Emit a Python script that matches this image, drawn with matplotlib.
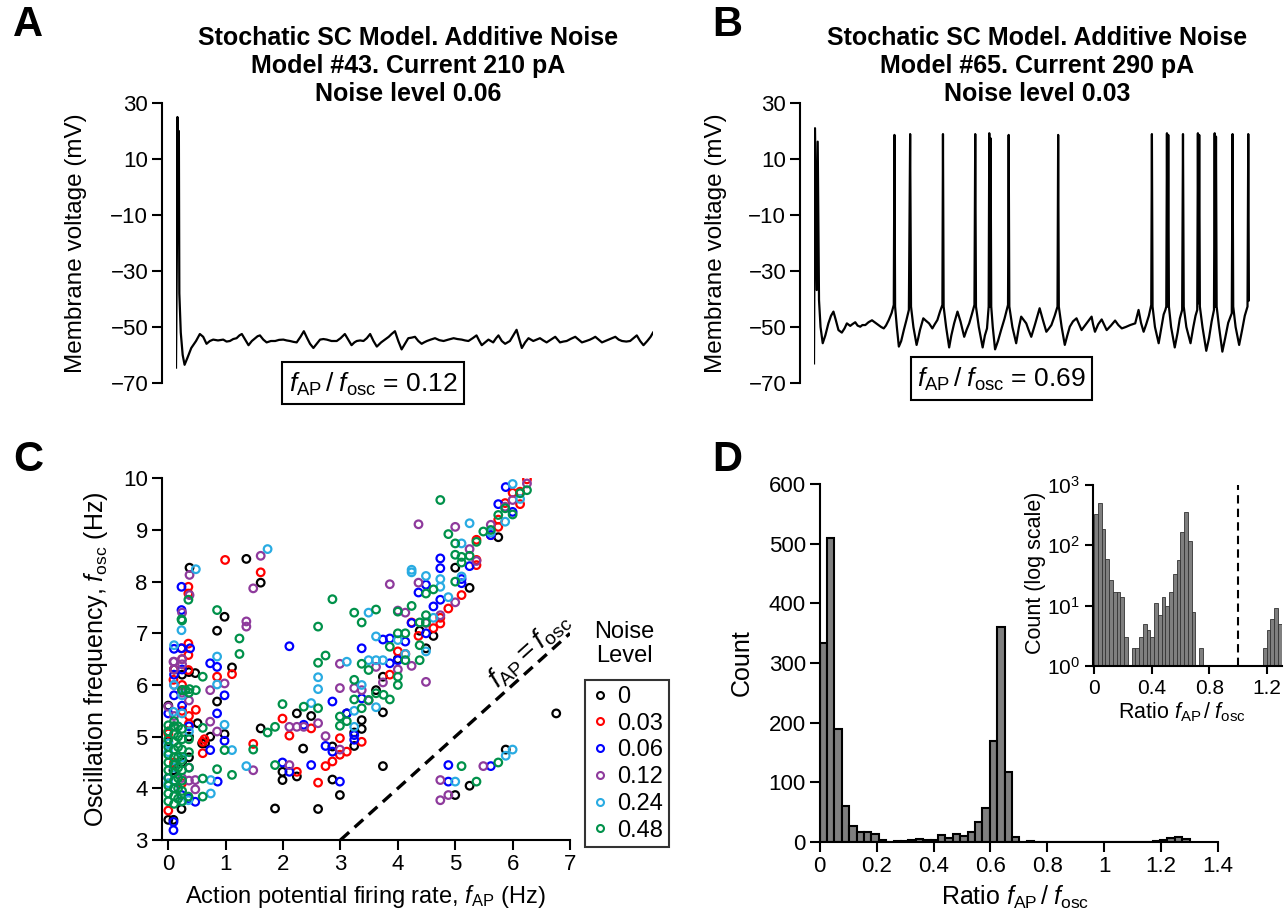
import numpy as np
import matplotlib
matplotlib.use('Agg')
import matplotlib.pyplot as plt
from matplotlib.lines import Line2D
from matplotlib.patches import Rectangle

plt.rcParams['font.family'] = ['Liberation Sans', 'DejaVu Sans']
plt.rcParams['mathtext.fontset'] = 'custom'
plt.rcParams['mathtext.rm'] = 'Liberation Sans'
plt.rcParams['mathtext.it'] = 'Liberation Sans:italic'
plt.rcParams['mathtext.bf'] = 'Liberation Sans:bold'

# ---------------- data ----------------
# panel A trace (time in ms, voltage in mV)
trace_a_t = [0, 2, 3, 4, 6, 7, 10, 14, 18, 24, 32, 42, 50, 57, 64, 71, 78, 88, 99, 106, 113, 120, 127, 133,
             138, 145, 152, 159, 166, 171, 176, 183, 190, 199, 208, 216, 225, 232, 239, 246, 253, 261, 268,
             275, 281, 288, 295, 302, 309, 316, 326, 337, 345, 354, 361, 368, 374, 379, 386, 393, 400, 407,
             414, 421, 430, 438, 446, 452, 459, 466, 473, 480, 487, 494, 501, 508, 515, 520, 526, 534, 543,
             552, 561, 571, 582, 590, 599, 606, 613, 622, 630, 636, 641, 648, 655, 660, 665, 671, 676, 683,
             690, 695, 700, 707, 714, 720, 725, 732, 739, 744, 749, 756, 763, 770, 777, 786, 795, 800, 805,
             812, 819, 828, 837, 844, 851, 860, 868, 874, 879, 886, 893, 900, 907, 914, 921, 928, 935, 944,
             952, 959, 966, 973, 980, 988, 995, 1000]
trace_a_v = [-64.5, -20, 25, -10, 20, -38, -52, -60, -63.5, -61, -57.5, -55, -52.5, -53.5, -56, -55, -54.5,
             -54.8, -54.5, -55.2, -55, -54.3, -54, -53, -52.5, -54.5, -56.5, -55, -54, -53.3, -53, -54.5,
             -55.5, -55, -55, -54.6, -54.5, -54.8, -55, -55.3, -55.5, -53.5, -51.5, -54, -56, -57.5, -56,
             -54.5, -54.3, -54.5, -55, -55, -54, -52.5, -54.5, -56.5, -55.5, -55, -54.8, -55, -54, -52.5,
             -55, -57, -55.5, -54.5, -53.5, -52.5, -51.5, -55, -58, -56, -54, -53.8, -53.5, -55, -56, -55.5,
             -55, -54.5, -54, -54.7, -55, -54.5, -54, -54.3, -54.5, -54.8, -55, -54, -53, -55, -56.5, -55.5,
             -54.5, -55, -55.5, -54, -53, -55, -56, -55.5, -55, -53, -51, -54.5, -57.5, -55.5, -54, -54.5,
             -55, -54.5, -54, -54.8, -55.5, -54.5, -53.5, -54.5, -55.5, -55.2, -55, -54.2, -53.5, -54.5,
             -55.5, -55, -54.5, -54, -53.5, -54.5, -55.5, -55, -54.5, -54, -53.5, -54.5, -55, -55.2, -55,
             -54, -53, -55, -56.5, -55, -53.5, -52]

# panel B trace
trace_b_t = [0, 2.3, 6.2, 8.5, 11.5, 15, 20, 26, 33, 39, 44.6, 50, 56.1, 63.8, 70, 75.4, 83.1, 88, 94.6, 100,
             106.1, 111, 117.7, 125, 133, 141, 148.4, 154, 160, 165, 171.5, 178, 183, 184.5, 186, 190, 194.6,
             200, 206, 212, 217.6, 220.5, 222.5, 228, 235.3, 239, 243, 250.7, 257, 263.8, 271.5, 277, 283,
             289, 294.5, 295.8, 297.3, 303, 310, 315, 321.4, 329.1, 336, 344.5, 350, 356, 362, 368, 369.8,
             371.5, 378, 386.8, 392, 396.8, 399, 400.6, 402, 403.5, 405, 406.5, 410, 415.3, 422, 429.1, 437,
             445, 446.5, 448, 455, 463.7, 470, 475.2, 481, 486.8, 492, 498.3, 507, 517.5, 525, 532.9, 539,
             544.5, 552, 558.5, 560, 561.5, 568, 575.2, 581, 586.7, 594, 602.1, 608, 613.7, 619, 625.2, 631,
             636.7, 640, 644.4, 652, 659.8, 665, 671.3, 681, 690.6, 698, 706, 715, 725.2, 731, 736.7, 741,
             744.4, 750, 756, 762, 768, 773.5, 775, 776.5, 782, 790.5, 797, 802, 805.9, 808, 809.5, 811,
             812.5, 814, 819, 827.4, 834, 839, 844.4, 846.3, 848, 854, 863.6, 870, 875, 879, 880.5, 882,
             883.5, 885, 891, 899.7, 906, 912, 917.4, 919, 920.5, 922, 923.5, 929, 936.6, 943, 950, 958.2,
             960, 961.5, 967, 975.1, 982, 988, 994.3, 996, 997.5, 1000]
trace_b_v = [-63, 21.0, -36.8, 16.2, -40.4, -50, -55.8, -53, -48.7, -46, -44.5, -47.5, -51.1, -52.0, -50.5,
             -48.7, -49.6, -49, -48.3, -49.5, -49.9, -49.3, -49.3, -48.3, -47.6, -48.5, -49.3, -50, -50.5,
             -49.5, -47.5, -45, -42.1, 18.6, -42.7, -50, -57.0, -55, -51.1, -47.5, -43.9, 18.9, -42.7, -50,
             -56.4, -54, -51.1, -46.9, -47.8, -48.7, -50.5, -49, -47.5, -44.5, -42.1, 18.9, -42.7, -50,
             -57.3, -53, -48.7, -44.5, -48, -53.5, -51, -48.7, -45.5, -42.1, 18.9, -42.7, -50, -57.3, -53,
             -50.5, -46, -42.7, 19.2, -42.7, 17.4, -42.7, -50, -58.0, -55, -51.1, -47, -42.1, 18.6, -42.7,
             -50, -55.8, -50, -46.3, -47.5, -48.7, -51, -53.5, -49, -43.3, -47.5, -51.7, -50.5, -49.3, -46,
             -42.7, 18.6, -42.7, -50, -56.4, -53, -49.9, -48, -46.9, -49, -51.1, -50, -48.7, -47.5, -46.3,
             -49, -51.7, -49, -47.3, -49, -51.1, -49.5, -47.7, -49.3, -50.5, -50, -49.3, -49, -48.7, -46,
             -43.9, -48.5, -51.7, -49, -46, -42.1, 18.9, -42.7, -50, -55.8, -50, -45.5, -43.9, -42.7, 19.2,
             -42.7, 18.6, -42.7, -50, -57.3, -52, -47, -43.9, 18.9, -42.7, -50, -55.8, -50, -46, -43.9, 19.2,
             -41.5, 18.6, -42.7, -50, -58.5, -54, -48, -43.9, 19.2, -42.7, 18.0, -42.7, -50, -58.8, -54,
             -48.5, -45.1, 18.9, -42.7, -50, -56.4, -51, -46, -42.7, 18.9, -40.5, -40.4]

# panel C: (f_AP, f_osc) per noise level
noise_levels = ['0', '0.03', '0.06', '0.12', '0.24', '0.48']
fap_0 = [5.75, 5.25, 5.0, 4.62, 4.49, 0.37, 1.36, 1.61, 0.98, 0.85, 1.11, 0.85, 0.47, 0.73, 0.98, 0.59, 1.61,
         2.24, 2.49, 2.35, 1.99, 1.99, 2.24, 1.86, 2.61, 2.86, 2.86, 2.99, 3.11, 3.24, 3.37, 3.74, 3.74, 3.74,
         6.76, 5.88, 5.0, 5.25, 0.0, 0.09, 0.23, 0.09, 0.0, 0.1, 0.24, 0.36, 0.24, 0.0, 0.36, 0.51, 3.24, 3.37,
         0.64, 0.36, 0.24, 0.1, 3.62, 4.0, 4.38]
fosc_0 = [8.86, 7.88, 8.27, 6.95, 6.71, 8.27, 8.44, 7.98, 7.32, 7.05, 6.34, 5.68, 6.23, 5.0, 5.05, 4.87, 5.16,
          5.45, 5.4, 4.77, 4.32, 4.16, 4.23, 3.61, 3.6, 4.81, 4.17, 3.87, 5.45, 4.82, 5.32, 4.43, 5.47, 6.16,
          5.45, 4.75, 3.87, 4.05, 3.39, 3.39, 3.6, 4.35, 4.9, 5.2, 6.2, 5.0, 4.5, 5.6, 4.6, 5.26, 5.08, 5.15,
          4.87, 6.25, 5.9, 6.3, 5.9, 6.5, 7.05]
fap_1 = [6.25, 6.13, 6.0, 6.13, 5.87, 5.75, 5.37, 5.37, 5.11, 4.88, 4.74, 4.24, 4.0, 0.99, 1.61, 0.35, 0.35,
         0.35, 0.23, 0.35, 0.35, 0.85, 1.11, 0.6, 0.6, 0.48, 1.48, 1.99, 2.11, 2.49, 2.24, 2.61, 2.74, 2.86,
         2.99, 2.99, 3.11, 0.0, 0.0, 0.09, 5.37, 4.74, 4.62, 5.62, 5.75, 4.36, 3.37, 0.24, 0.24, 0.24, 0.36,
         0.1, 0.36, 0.0, 0.63, 0.1, 0.24, 3.86, 4.13]
fosc_1 = [9.98, 9.74, 9.72, 9.5, 9.52, 9.06, 8.81, 8.32, 7.74, 7.48, 7.19, 7.21, 6.65, 8.42, 8.18, 7.9, 7.77,
          6.8, 6.71, 6.58, 6.29, 6.16, 6.21, 4.9, 4.68, 5.52, 4.86, 5.35, 5.02, 5.16, 4.32, 4.11, 4.43, 4.52,
          4.97, 4.65, 4.71, 3.57, 5.06, 6.1, 8.42, 7.3, 7.1, 8.9, 9.2, 6.95, 4.9, 6.5, 6.0, 5.5, 5.4, 6.3,
          5.25, 5.1, 4.95, 4.5, 4.1, 6.2, 6.6]
fap_2 = [5.88, 5.75, 4.74, 4.74, 5.11, 4.36, 4.49, 4.24, 3.86, 3.74, 3.37, 2.11, 0.23, 0.23, 0.23, 0.73, 0.85,
         0.98, 0.85, 0.98, 0.73, 0.86, 1.99, 2.11, 2.36, 2.49, 2.74, 2.86, 2.99, 2.86, 3.11, 3.24, 3.24, 3.37,
         3.86, 4.0, 4.88, 4.88, 5.62, 0.09, 0.09, 0.0, 0.23, 0.47, 5.62, 4.74, 4.62, 5.11, 5.25, 4.13, 0.1,
         0.1, 0.24, 0.1, 0.24, 0.36, 0.1, 0.0, 0.36, 0.38, 6.0, 4.49]
fosc_2 = [9.83, 9.5, 8.45, 8.26, 7.97, 7.79, 7.94, 7.2, 6.9, 6.88, 6.71, 6.75, 7.9, 7.45, 6.71, 6.42, 6.35,
          5.8, 5.45, 4.92, 4.74, 4.13, 4.5, 4.32, 5.23, 4.45, 4.82, 4.71, 4.13, 5.68, 5.45, 5.03, 4.94, 5.74,
          6.42, 6.48, 4.45, 4.13, 4.43, 3.19, 3.35, 5.45, 3.87, 3.74, 8.9, 7.65, 7.52, 8.05, 8.3, 6.84, 6.7,
          6.2, 6.3, 5.8, 5.6, 5.2, 4.0, 4.2, 3.8, 6.71, 9.35, 7.0]
fap_3 = [4.36, 5.0, 5.25, 3.86, 4.36, 1.61, 1.48, 1.36, 1.36, 0.37, 0.37, 2.99, 2.99, 4.49, 4.0, 4.13, 6.0,
         0.73, 0.98, 0.73, 0.85, 0.47, 0.47, 1.48, 2.11, 2.24, 2.11, 2.36, 2.74, 2.61, 2.99, 3.24, 3.37, 3.62,
         4.24, 4.74, 4.74, 4.88, 5.49, 0.0, 0.09, 6.25, 5.87, 4.74, 5.0, 4.49, 5.37, 5.62, 3.49, 0.1, 0.24,
         0.1, 0.24, 0.36, 0.1, 0.24, 0.36, 0.24, 0.36, 0.24, 0.1, 3.74, 4.0]
fosc_3 = [9.11, 9.06, 8.63, 7.95, 7.98, 8.5, 7.87, 7.23, 7.13, 8.13, 7.74, 6.41, 5.94, 6.06, 7.44, 7.4, 9.58,
          5.9, 6.03, 5.29, 5.1, 3.98, 4.16, 4.35, 5.19, 5.19, 4.45, 5.19, 5.01, 5.26, 4.75, 5.94, 5.9, 6.35,
          6.37, 4.16, 3.77, 3.87, 4.43, 5.58, 6.45, 9.9, 9.45, 7.35, 7.6, 7.2, 8.4, 9.1, 5.7, 6.3, 6.4, 6.0,
          5.85, 5.7, 5.4, 4.2, 4.4, 7.4, 4.15, 6.5, 6.45, 6.05, 6.3]
fap_4 = [6.0, 5.87, 5.25, 5.11, 4.24, 4.24, 4.49, 4.74, 4.74, 3.49, 3.62, 3.62, 3.49, 3.11, 3.74, 1.73, 0.48,
         0.1, 0.23, 0.85, 0.85, 0.98, 1.11, 0.74, 0.74, 1.36, 2.49, 2.61, 2.61, 3.24, 4.49, 5.88, 6.0, 5.0,
         0.35, 0.0, 0.09, 4.0, 4.13, 5.11, 5.62, 6.13, 4.62, 3.62, 3.24, 0.24, 0.1, 0.24, 0.0, 0.24, 0.36,
         0.0, 0.24, 0.1, 3.37, 4.88]
fosc_4 = [9.89, 9.16, 9.13, 8.74, 8.23, 8.18, 8.11, 8.05, 7.9, 7.4, 6.94, 6.48, 6.48, 6.45, 6.48, 8.63, 8.24,
          6.77, 7.06, 6.55, 6.01, 5.23, 4.74, 4.16, 3.9, 4.43, 5.65, 6.15, 5.92, 5.19, 6.65, 4.63, 4.75, 4.13,
          3.77, 4.87, 5.48, 6.87, 6.6, 8.1, 8.95, 9.6, 7.3, 5.57, 5.5, 5.8, 4.4, 4.6, 4.1, 3.75, 5.1, 4.7,
          5.45, 6.0, 6.0, 7.7]
fap_5 = [4.74, 6.25, 6.13, 5.75, 5.62, 5.49, 5.37, 4.88, 5.0, 5.0, 5.11, 5.11, 4.62, 4.49, 4.24, 4.0, 3.24,
         3.62, 3.37, 2.86, 2.61, 2.74, 2.61, 3.37, 3.49, 3.24, 2.99, 2.99, 2.61, 2.36, 1.99, 1.86, 1.73, 1.86,
         1.48, 1.11, 0.98, 0.85, 0.6, 0.6, 0.6, 1.24, 1.24, 0.85, 0.35, 0.23, 0.37, 0.48, 0.6, 5.11, 5.37,
         5.75, 0.35, 3.49, 3.62, 3.75, 3.86, 3.37, 4.0, 4.0, 4.13, 4.38, 4.38, 4.0, 4.13, 4.38, 4.49, 4.49,
         3.86, 3.24, 3.11, 5.87, 6.0, 5.0, 5.25,
         0.0, 0.0, 0.0, 0.0, 0.0, 0.0, 0.0, 0.0, 0.0, 0.0, 0.0,
         0.1, 0.1, 0.1, 0.1, 0.1, 0.1, 0.1, 0.1, 0.1, 0.1, 0.1, 0.1,
         0.17, 0.17, 0.17, 0.17, 0.17, 0.17, 0.17, 0.17,
         0.24, 0.24, 0.24, 0.24, 0.24, 0.24, 0.24, 0.24, 0.24, 0.24,
         0.36, 0.36, 0.36, 0.36, 0.3]
fosc_5 = [9.58, 9.77, 9.71, 9.29, 9.0, 8.97, 8.77, 8.92, 8.74, 8.52, 8.48, 8.37, 7.85, 7.77, 7.53, 7.42, 7.4,
          7.46, 7.21, 7.66, 7.13, 6.57, 6.43, 6.41, 6.29, 6.1, 5.21, 5.39, 5.55, 5.58, 5.63, 5.19, 5.08, 4.45,
          4.75, 4.26, 4.74, 4.37, 5.17, 4.19, 3.84, 6.9, 6.6, 7.45, 7.65, 7.27, 5.92, 5.9, 6.16, 4.43, 4.13,
          4.5, 3.84, 5.71, 5.84, 5.81, 5.72, 5.55, 6.0, 6.16, 6.48, 6.48, 6.77, 7.0, 7.0, 7.21, 7.35, 7.21,
          6.74, 5.72, 5.3, 9.42, 9.3, 8.0, 8.5,
          3.75, 3.9, 4.05, 4.2, 4.35, 4.5, 4.65, 4.8, 4.95, 5.1, 5.22,
          3.7, 3.85, 4.0, 4.15, 4.3, 4.45, 4.6, 4.75, 4.9, 5.05, 5.2, 5.3,
          3.8, 4.0, 4.2, 4.4, 4.6, 4.8, 5.0, 5.2,
          3.75, 3.95, 4.15, 4.35, 4.55, 4.75, 4.95, 5.15, 5.9, 7.25,
          4.4, 4.7, 4.95, 5.85, 5.9]

# panel D: histogram of f_AP / f_osc, 50 bins of width 0.026 on [0, 1.3]
bin_edges = np.linspace(0, 1.3, 51)
counts = [333, 510, 190, 60, 27, 17, 17, 14, 3, 0,
          2, 2, 3, 5, 4, 3, 11, 7, 14, 10,
          17, 33, 57, 169, 361, 118, 8, 0, 2, 0,
          0, 0, 0, 0, 0, 0, 0, 0, 0, 0,
          0, 0, 0, 0, 0, 2, 4, 6, 9, 5]

colors = ['#000000', '#ff0000', '#0000ff', '#8e3a9c', '#29abe2', '#00914a']

# ---------------- figure ----------------
W, H = 1286, 919
fig = plt.figure(figsize=(W / 100, H / 100), dpi=100)


def rect(x0, y0, x1, y1):
    # pixel box (left, top, right, bottom) -> figure fraction
    return [x0 / W, 1 - y1 / H, (x1 - x0) / W, (y1 - y0) / H]


def ftext(x, y, s, **kw):
    fig.text(x / W, 1 - y / H, s, **kw)


tick_fs = 16
lab_fs = 17


def style(ax, lw=1.5):
    for sp in ['top', 'right']:
        ax.spines[sp].set_visible(False)
    for sp in ['left', 'bottom']:
        ax.spines[sp].set_linewidth(lw)
    ax.tick_params(direction='out', length=7, width=lw, labelsize=tick_fs, pad=3)


# ---- A and B: voltage traces ----
for (x0, x1, tt, vv, title, ratio, box, letter, lx, cx) in [
        (176, 653, trace_a_t, trace_a_v, 'Stochatic SC Model. Additive Noise\nModel #43. Current 210 pA\nNoise level 0.06',
         '0.12', (282, 362, 464, 404), 'A', 28, 408),
        (814, 1250, trace_b_t, trace_b_v, 'Stochatic SC Model. Additive Noise\nModel #65. Current 290 pA\nNoise level 0.03',
         '0.69', (911, 357, 1092, 400), 'B', 727, 1037)]:
    ax = fig.add_axes(rect(x0, 103, x1, 383))
    ax.plot(tt, vv, color='black', lw=1.6)
    ax.set_xlim(0, 1000)
    ax.set_ylim(-70, 30)
    ax.set_yticks([30, 10, -10, -30, -50, -70])
    ax.set_yticklabels(['30', '10', '\u221210', '\u221230', '\u221250', '\u221270'])
    style(ax)
    ax.spines['bottom'].set_visible(False)
    ax.spines['left'].set_position(('outward', 10))
    ax.set_xticks([])
    ftext(cx, 66, title, ha='center', va='center', fontsize=18, fontweight='bold', linespacing=1.22)
    ftext(lx, 25, letter, ha='center', va='center', fontsize=30, fontweight='bold')
    ftext(lx + 48 if letter == 'A' else lx - 11, 243, 'Membrane voltage (mV)', rotation=90,
          ha='center', va='center', fontsize=lab_fs + 0.5)
    bx0, by0, bx1, by1 = box
    fig.patches.append(Rectangle((bx0 / W, 1 - by1 / H), (bx1 - bx0) / W, (by1 - by0) / H,
                                 transform=fig.transFigure, fill=False, lw=1.5, ec='black'))
    ftext((bx0 + bx1) / 2, (by0 + by1) / 2 + 1,
          r'$f_{\rm AP}\,/\;f_{\rm osc}$ = ' + ratio, ha='center', va='center', fontsize=19)

# ---- C: scatter ----
axc = fig.add_axes(rect(161.7, 478.3, 570, 840))
series = [(fap_0, fosc_0), (fap_1, fosc_1), (fap_2, fosc_2), (fap_3, fosc_3), (fap_4, fosc_4), (fap_5, fosc_5)]
for (xs, ys), c in zip(series, colors):
    axc.scatter(xs, ys, s=30, facecolors='none', edgecolors=c, linewidths=1.6, zorder=3)
axc.plot([3, 7], [3, 7], ls=(0, (3.5, 2.2)), color='black', lw=2.4, zorder=2)
axc.set_xlim(-0.115, 7)
axc.set_ylim(3, 10)
axc.set_xticks(range(0, 8))
axc.set_yticks(range(3, 11))
style(axc)
axc.text(6.3, 6.68, r'$f_{\rm AP} = f_{\rm osc}$', rotation=42, rotation_mode='anchor',
         ha='center', va='center', fontsize=20)
ftext(365, 897, r'Action potential firing rate, $f_{\rm AP}$ (Hz)', ha='center', va='center', fontsize=lab_fs)
ftext(96, 659, r'Oscillation frequency, $f_{\rm osc}$ (Hz)', rotation=90, ha='center', va='center',
      fontsize=lab_fs + 1)
ftext(28, 460, 'C', ha='center', va='center', fontsize=30, fontweight='bold')
ftext(624, 644, 'Noise\nLevel', ha='center', va='center', fontsize=lab_fs, linespacing=1.1)
handles = [Line2D([], [], marker='o', ls='none', mfc='none', mec=c, ms=5, mew=1.5) for c in colors]
leg = axc.legend(handles, noise_levels, loc='upper left', bbox_to_anchor=(585 / W, 1 - 680 / H),
                 bbox_transform=fig.transFigure, frameon=True, fancybox=False, edgecolor='black',
                 fontsize=lab_fs, handletextpad=0.3, handlelength=0.8, borderpad=0.25,
                 labelspacing=0.2, borderaxespad=0)
leg.get_frame().set_linewidth(1.5)

# ---- D: histogram ----
axd = fig.add_axes(rect(819.7, 484, 1218, 842))
widths = np.diff(bin_edges)
axd.bar(bin_edges[:-1], counts, width=widths, align='edge', color='#7f7f7f', edgecolor='black', lw=1.5)
axd.set_xlim(0, 1.4)
axd.set_ylim(0, 600)
axd.set_xticks([0, 0.2, 0.4, 0.6, 0.8, 1.0, 1.2, 1.4])
axd.set_xticklabels(['0', '0.2', '0.4', '0.6', '0.8', '1', '1.2', '1.4'])
axd.set_yticks(range(0, 700, 100))
style(axd)
ftext(742, 663, 'Count', rotation=90, ha='center', va='center', fontsize=lab_fs + 1)
ftext(1015, 897, r'Ratio $f_{\rm AP}\,/\;f_{\rm osc}$', ha='center', va='center', fontsize=lab_fs + 1)
ftext(727, 460, 'D', ha='center', va='center', fontsize=30, fontweight='bold')

# inset (log scale)
axi = fig.add_axes(rect(1092.6, 485, 1281.5, 666))
counts_arr = np.array(counts)
nz = counts_arr > 0
axi.bar(bin_edges[:-1][nz], counts_arr[nz] - 1, bottom=1, width=widths[nz], align='edge',
        color='#7f7f7f', edgecolor='#333333', lw=0.6)
axi.set_yscale('log')
axi.set_ylim(1, 1000)
axi.set_xlim(-0.01, 1.3)
axi.axvline(1.0, ls=(0, (4, 2.5)), color='black', lw=1.5)
axi.set_xticks([0, 0.4, 0.8, 1.2])
axi.set_xticklabels(['0', '0.4', '0.8', '1.2'])
axi.set_yticks([1, 10, 100, 1000])
axi.set_yticklabels([r'$10^0$', r'$10^1$', r'$10^2$', r'$10^3$'])
axi.minorticks_off()
style(axi)
axi.tick_params(labelsize=15, length=6)
ftext(1035, 573, 'Count (log scale)', rotation=90, ha='center', va='center', fontsize=15.5)
ftext(1182, 712, r'Ratio $f_{\rm AP}\,/\;f_{\rm osc}$', ha='center', va='center', fontsize=15.5)

fig.savefig('out.png', dpi=100)
